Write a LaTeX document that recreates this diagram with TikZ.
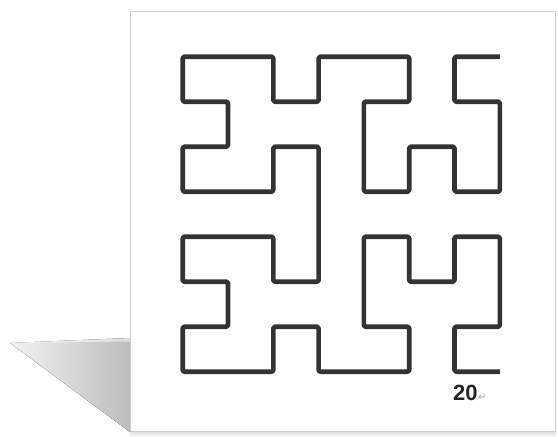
\documentclass[tikz,border=0pt]{standalone}
\usepackage{fontspec}
\setmainfont{Liberation Sans}
\newfontfamily\symfont{DejaVu Sans}
\usetikzlibrary{positioning}

\begin{document}
\begin{tikzpicture}[x=1pt,y=-1pt,
  sheet/.style={draw=black!20,line width=0.8pt,fill=white},
  shade/.style={left color=black!5,right color=black!26},
  curve/.style={draw=black!80,line width=4.6pt,line join=round,rounded corners=1.5pt},
  pagenum/.style={inner sep=0pt,anchor=base west,font=\fontsize{22}{22}\selectfont\bfseries,text=black!85},
  retmark/.style={inner sep=0pt,anchor=base west,font=\symfont\fontsize{10}{10}\selectfont,text=black!35}]
\useasboundingbox (0,0) rectangle (558,437);
% shadow behind the sheet
\fill[shade] (10,343) -- (130,338) -- (130,432) -- cycle;
\fill[white,opacity=0.5] (6,343) -- (130,341.5) -- (130,338) -- cycle;
\fill[top color=black!14,bottom color=white] (130,431) rectangle (556,437);
% the sheet
\draw[sheet] (130,11) rectangle (555,431);
% Hilbert curve, order 3
\begin{scope}[shift={(182.7,56.7)},x=45.3pt,y=-45pt]
\draw[curve] (7,0) -- (6,0) -- (6,1) -- (7,1) -- (7,3) -- (6,3) -- (6,2) -- (5,2)
  -- (5,3) -- (4,3) -- (4,1) -- (5,1) -- (5,0) -- (3,0) -- (3,1) -- (2,1) -- (2,0)
  -- (0,0) -- (0,1) -- (1,1) -- (1,2) -- (0,2) -- (0,3) -- (2,3) -- (2,2) -- (3,2)
  -- (3,5) -- (2,5) -- (2,4) -- (0,4) -- (0,5) -- (1,5) -- (1,6) -- (0,6) -- (0,7)
  -- (2,7) -- (2,6) -- (3,6) -- (3,7) -- (5,7) -- (5,6) -- (4,6) -- (4,4) -- (5,4)
  -- (5,5) -- (6,5) -- (6,4) -- (7,4) -- (7,6) -- (6,6) -- (6,7) -- (7,7);
\end{scope}
\node[pagenum] (num) at (453,400) {20};
\node[retmark] (ret) at (num.base east) {↵};
\end{tikzpicture}
\end{document}
